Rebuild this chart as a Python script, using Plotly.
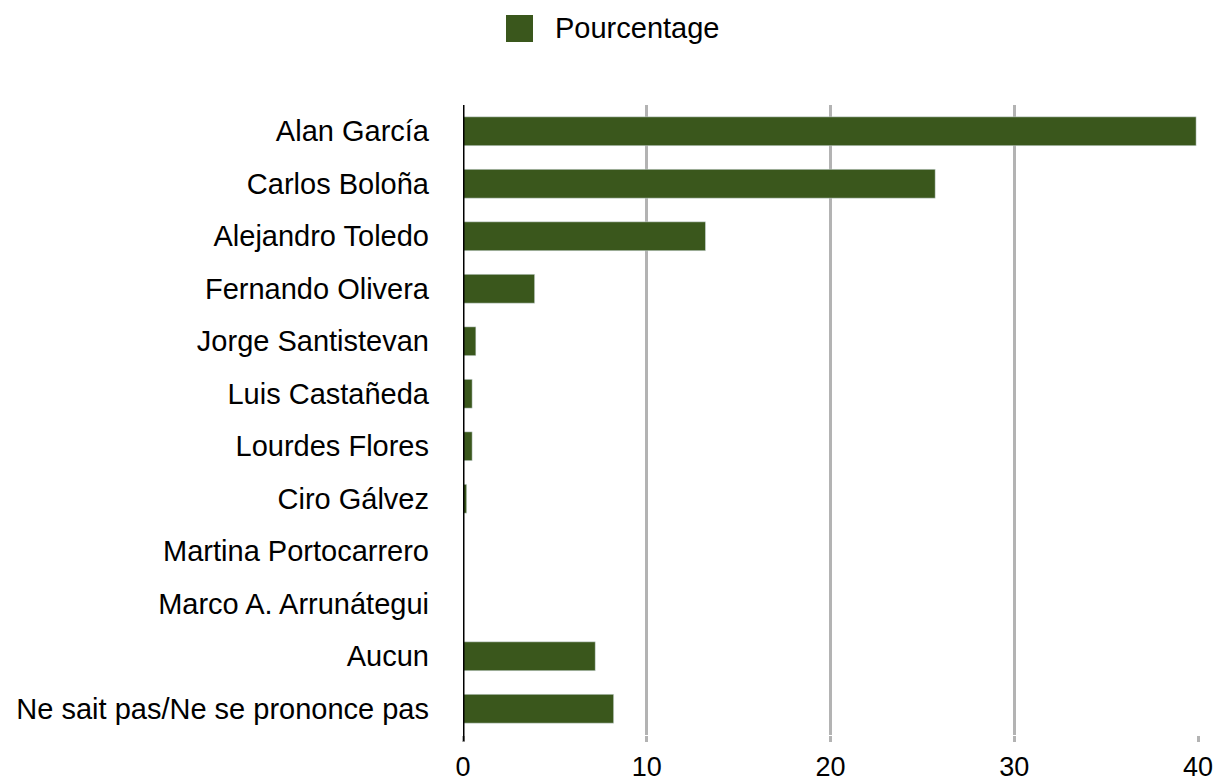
import plotly.graph_objects as go

categories = ["Alan García", "Carlos Boloña", "Alejandro Toledo", "Fernando Olivera",
              "Jorge Santistevan", "Luis Castañeda", "Lourdes Flores", "Ciro Gálvez",
              "Martina Portocarrero", "Marco A. Arrunátegui", "Aucun",
              "Ne sait pas/Ne se prononce pas"]
values = [39.9, 25.7, 13.2, 3.9, 0.7, 0.5, 0.5, 0.2, 0, 0, 7.2, 8.2]
series_name = "Pourcentage"
x_ticks = [0, 10, 20, 30, 40]

color = "#3A571C"
W, H = 1216, 781
L, R, T, B = 463, 18, 105, 46

fig = go.Figure()
fig.add_trace(go.Bar(y=categories, x=values, orientation="h", marker_color=color,
                     width=0.55, name=series_name, showlegend=False))

pw = W - L - R
ph = H - T - B
def px(xp):
    return (xp - L) / pw
def py(yp):
    return 1 - (yp - T) / ph

font_main = "Liberation Sans, Arial, sans-serif"

# legend drawn as square + text
fig.add_shape(type="rect", xref="paper", yref="paper",
              x0=px(506), x1=px(533), y0=py(42), y1=py(15),
              fillcolor=color, line_width=0)
fig.add_annotation(xref="paper", yref="paper", x=px(553), y=py(28),
                   text=series_name, showarrow=False, xanchor="left", yanchor="middle",
                   font=dict(family=font_main, size=29, color="#000"))

fig.update_layout(
    width=W, height=H,
    margin=dict(l=L, r=R, t=T, b=B, autoexpand=False),
    plot_bgcolor="white", paper_bgcolor="white",
    xaxis=dict(range=[0, 40], tickvals=x_ticks, showgrid=True, gridcolor="#b3b3b3",
               gridwidth=2.5, zeroline=False, showline=False,
               ticks="outside", ticklen=6, tickwidth=2.5, tickcolor="#b3b3b3",
               ticklabelstandoff=2,
               tickfont=dict(family=font_main, size=27, color="#000"),
               automargin=False, fixedrange=True),
    yaxis=dict(categoryorder="array", categoryarray=categories[::-1],
               showgrid=False, zeroline=False, showline=False, ticks="",
               ticklabelstandoff=33,
               tickfont=dict(family=font_main, size=29, color="#000"),
               automargin=False, fixedrange=True),
)
# y axis baseline at x = 0
fig.add_shape(type="line", xref="x", yref="paper", x0=0, x1=0, y0=-0.01, y1=1,
              line=dict(color="#000", width=3))
fig.write_html("out.html", config={"displayModeBar": False},
               post_script="document.body.style.margin='0';document.body.style.overflow='hidden';")
